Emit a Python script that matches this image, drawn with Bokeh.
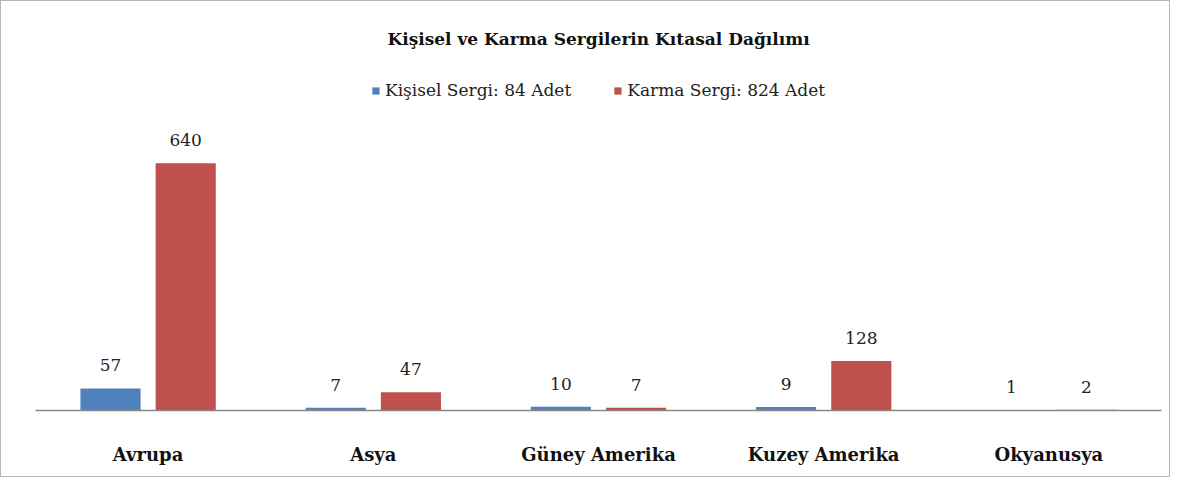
from bokeh.plotting import figure
from bokeh.models import ColumnDataSource, Legend, LegendItem, Range1d, FactorRange
from bokeh.transform import dodge
from bokeh.core.properties import value
from bokeh.embed import file_html
from bokeh.resources import INLINE

continents = ["Avrupa", "Asya", "Güney Amerika", "Kuzey Amerika", "Okyanusya"]
kisisel = [57, 7, 10, 9, 1]
karma = [640, 47, 7, 128, 2]
series_names = ["Kişisel Sergi: 84 Adet", "Karma Sergi: 824 Adet"]
colors = ["#4F81BD", "#C0504D"]
title_text = "Kişisel ve Karma Sergilerin Kıtasal Dağılımı"

FONT = "DejaVu Serif"

src = ColumnDataSource(dict(
    cat=continents, k=kisisel, m=karma,
    kl=[str(v) for v in kisisel], ml=[str(v) for v in karma],
))

p = figure(
    x_range=FactorRange(*continents), y_range=Range1d(0, 870),
    width=1170, height=477, output_backend="svg", toolbar_location=None,
    min_border_left=34, min_border_right=10, min_border_bottom=68, min_border_top=73,
    title=title_text,
)
p.styles = {"border": "1px solid #b5b5b5"}

r1 = p.vbar(x=dodge("cat", -0.167, range=p.x_range), top="k", width=0.267,
            source=src, color=colors[0], line_color=None)
r2 = p.vbar(x=dodge("cat", 0.167, range=p.x_range), top="m", width=0.267,
            source=src, color=colors[1], line_color=None)

common = dict(source=src, text_font=value(FONT), text_font_size="17px",
              text_color="#222222", text_align="center", text_baseline="middle", y_offset=-23)
p.text(x=dodge("cat", -0.167, range=p.x_range), y="k", text="kl", **common)
p.text(x=dodge("cat", 0.167, range=p.x_range), y="m", text="ml", **common)

p.title.align = "center"
p.title.text_font = FONT
p.title.text_font_size = "17px"
p.title.text_font_style = "bold"
p.title.text_color = "#111111"
p.title.standoff = 51

legend = Legend(items=[LegendItem(label=series_names[0], renderers=[r1]),
                       LegendItem(label=series_names[1], renderers=[r2])],
                orientation="horizontal", location="top_center",
                label_text_font=FONT, label_text_font_size="17px", label_text_color="#222222",
                glyph_width=9, glyph_height=9, label_standoff=5, spacing=42,
                border_line_color=None, background_fill_alpha=0, margin=6, padding=0)
p.add_layout(legend, "center")

p.xaxis.axis_line_color = "#888888"
p.xaxis.axis_line_width = 1.5
p.xaxis.major_tick_line_color = None
p.xaxis.minor_tick_line_color = None
p.xaxis.major_label_standoff = 27
p.xaxis.major_label_text_font = FONT
p.xaxis.major_label_text_font_size = "18px"
p.xaxis.major_label_text_font_style = "bold"
p.xaxis.major_label_text_color = "#111111"
p.yaxis.visible = False
p.xgrid.grid_line_color = None
p.ygrid.grid_line_color = None
p.outline_line_color = None
p.x_range.range_padding = 0
p.x_range.group_padding = 0

open("out.html", "w").write(file_html(p, INLINE))
